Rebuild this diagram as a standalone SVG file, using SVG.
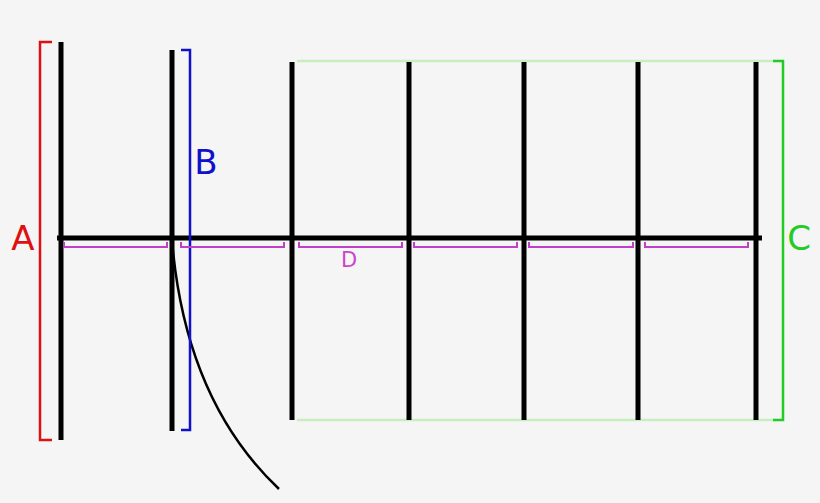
<svg xmlns="http://www.w3.org/2000/svg" width="820" height="503" viewBox="0 0 820 503">
<style>
.el{stroke:#000;stroke-width:5;fill:none}
.br{fill:none;stroke-width:2.5}
.d{fill:none;stroke:#c040c8;stroke-width:2}
.lbl{font-family:"DejaVu Sans","Liberation Sans",sans-serif}
</style>
<rect width="820" height="503" fill="#f5f5f5"/>
<g id="connectors">
<line x1="297" y1="61" x2="776" y2="61" stroke="#c8eec0" stroke-width="2.5"/>
<line x1="297" y1="420" x2="776" y2="420" stroke="#c8eec0" stroke-width="2.5"/>
<path d="M172,240 Q185,400 279,489" fill="none" stroke="#000" stroke-width="2.5"/>
</g>
<g id="boom"><line class="el" x1="57" y1="238" x2="762" y2="238"/></g>
<g id="elements">
<line class="el" x1="61" y1="42" x2="61" y2="440"/>
<line class="el" x1="172" y1="50" x2="172" y2="431"/>
<line class="el" x1="292" y1="62" x2="292" y2="420"/>
<line class="el" x1="409" y1="62" x2="409" y2="420"/>
<line class="el" x1="524" y1="62" x2="524" y2="420"/>
<line class="el" x1="638" y1="62" x2="638" y2="420"/>
<line class="el" x1="756" y1="62" x2="756" y2="420"/>
</g>
<g id="A">
<path class="br" stroke="#dd1111" d="M52,42 H40 V440 H52"/>
<text class="lbl" x="23" y="250" font-size="34" fill="#dd1111" text-anchor="middle">A</text>
</g>
<g id="B">
<path class="br" stroke="#1111cc" d="M181,50 H190 V430 H181"/>
<text class="lbl" x="206" y="174" font-size="34" fill="#1111cc" text-anchor="middle">B</text>
</g>
<g id="C">
<path class="br" stroke="#22cc22" d="M773,61 H783 V420 H773"/>
<text class="lbl" x="799" y="250" font-size="34" fill="#22cc22" text-anchor="middle">C</text>
</g>
<g id="D">
<path class="d" d="M64,242 V247 H167 V242"/>
<path class="d" d="M181,242 V247 H284 V242"/>
<path class="d" d="M299,242 V247 H402 V242"/>
<path class="d" d="M414,242 V247 H517 V242"/>
<path class="d" d="M529,242 V247 H633 V242"/>
<path class="d" d="M645,242 V247 H748 V242"/>
<text class="lbl" x="349" y="267" font-size="21" fill="#cc44cc" text-anchor="middle">D</text>
</g>
</svg>
